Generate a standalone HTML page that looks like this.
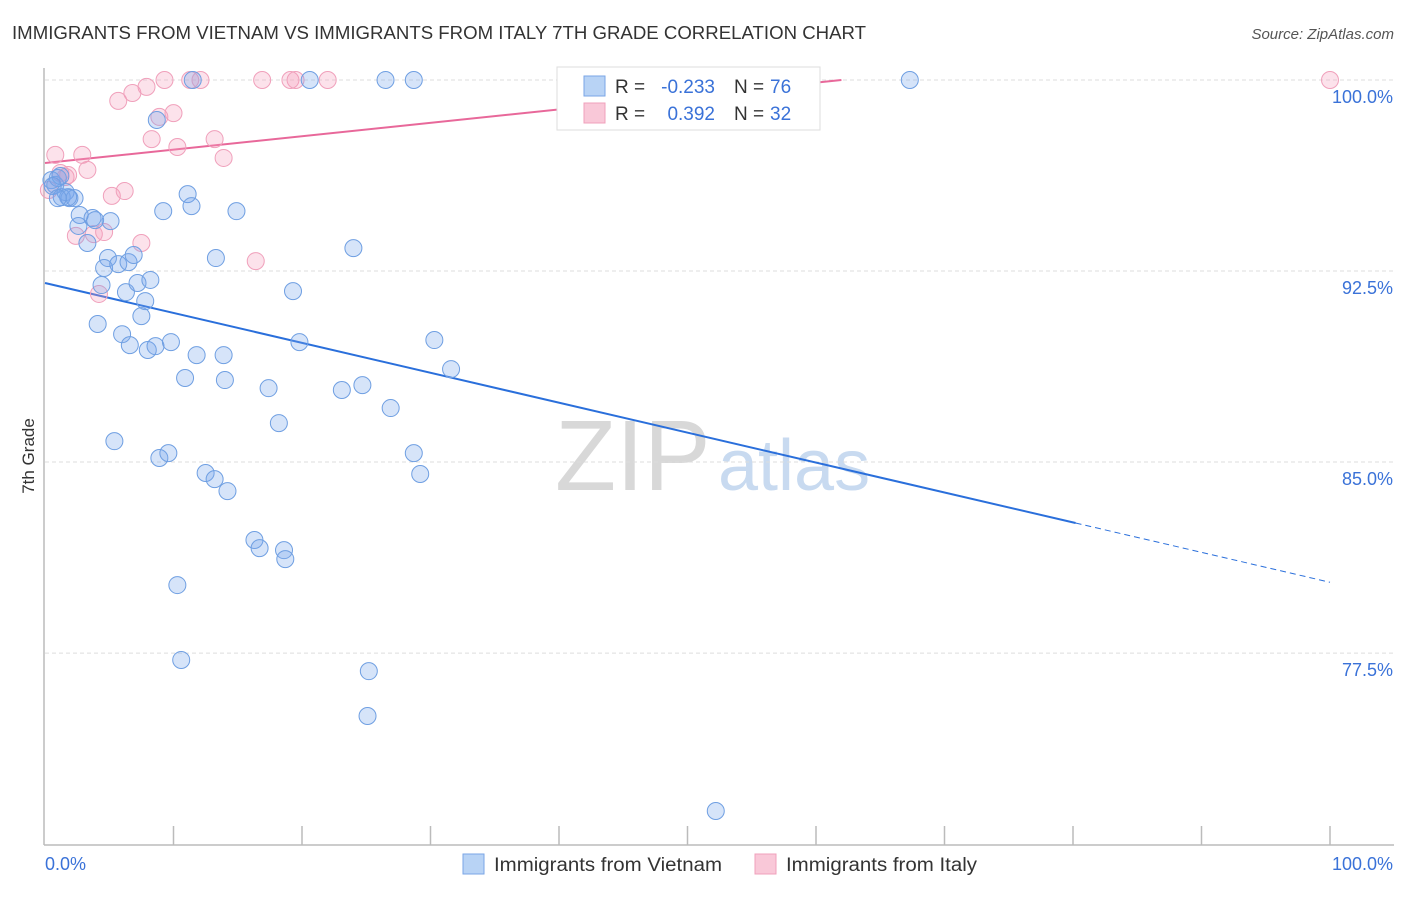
<!DOCTYPE html>
<html><head><meta charset="utf-8"><style>
body{margin:0;background:#fff;font-family:"Liberation Sans",sans-serif;}
svg text{font-family:"Liberation Sans",sans-serif;}
</style></head><body>
<svg id="chart" width="1406" height="892" xmlns="http://www.w3.org/2000/svg">
<text x="12" y="39" font-size="18" fill="#333" textLength="854" lengthAdjust="spacingAndGlyphs">IMMIGRANTS FROM VIETNAM VS IMMIGRANTS FROM ITALY 7TH GRADE CORRELATION CHART</text>
<text x="1394" y="39" font-size="15" fill="#555" text-anchor="end" font-style="italic">Source: ZipAtlas.com</text>
<text x="34" y="456" font-size="17" fill="#333" text-anchor="middle" transform="rotate(-90 34 456)">7th Grade</text>
<text x="555" y="490" font-size="100" fill="#d8d8d8" font-family="Liberation Serif">ZIP</text>
<text x="718" y="490" font-size="72" fill="#c8daf0">atlas</text>
<g id="grid"></g><g id="axes"></g><g id="trend"></g><g id="pts"></g>
<g>
<rect x="557" y="67" width="263" height="63" fill="#fff" stroke="#ddd"/>
<rect x="584" y="76" width="21" height="20" fill="#b8d3f5" stroke="#7aa6e6"/>
<rect x="584" y="103" width="21" height="20" fill="#f9c8d8" stroke="#f0a0bb"/>
<text x="615" y="93" font-size="19" fill="#333">R =</text>
<text x="715" y="93" font-size="19" fill="#3a72d8" text-anchor="end">-0.233</text>
<text x="734" y="93" font-size="19" fill="#333">N =</text>
<text x="770" y="93" font-size="19" fill="#3a72d8">76</text>
<text x="615" y="120" font-size="19" fill="#333">R =</text>
<text x="715" y="120" font-size="19" fill="#3a72d8" text-anchor="end">0.392</text>
<text x="734" y="120" font-size="19" fill="#333">N =</text>
<text x="770" y="120" font-size="19" fill="#3a72d8">32</text>
</g>
<g>
<rect x="463" y="854" width="21" height="20" fill="#b8d3f5" stroke="#7aa6e6"/>
<text x="494" y="871" font-size="19" fill="#333" textLength="228" lengthAdjust="spacingAndGlyphs">Immigrants from Vietnam</text>
<rect x="755" y="854" width="21" height="20" fill="#f9c8d8" stroke="#f0a0bb"/>
<text x="786" y="871" font-size="19" fill="#333" textLength="191" lengthAdjust="spacingAndGlyphs">Immigrants from Italy</text>
</g>
</svg>
<script>
const yTicks=[100,92.5,85,77.5];
const yTickLabels=["100.0%","92.5%","85.0%","77.5%"];
const xTickLabels=["0.0%","100.0%"];
const blueX=[0.5,0.8,1.0,1.2,0.6,1.3,1.6,1.9,2.3,1.8,1.0,2.7,2.6,3.3,3.7,3.9,5.1,4.9,4.6,4.4,5.7,6.5,6.9,6.3,7.2,7.8,8.2,7.5,4.1,6.0,6.6,8.0,8.6,9.8,8.7,9.2,11.1,11.4,14.9,13.3,11.5,20.6,26.5,28.7,67.3,19.3,19.8,24.0,30.3,31.6,10.9,11.8,13.9,14.0,17.4,23.1,24.7,26.9,18.2,5.4,8.9,9.6,12.5,13.2,14.2,28.7,29.2,16.3,16.7,18.6,18.7,10.3,10.6,25.2,25.1,52.2];
const blueY=[96.07,95.88,96.15,96.23,95.84,95.40,95.60,95.36,95.36,95.40,95.36,94.70,94.27,93.60,94.58,94.50,94.46,93.01,92.62,91.95,92.77,92.85,93.13,91.67,92.03,91.32,92.15,90.73,90.42,90.02,89.59,89.40,89.55,89.71,98.43,94.85,95.52,95.05,94.85,93.01,100,100,100,100,100,91.71,89.71,93.40,89.79,88.65,88.30,89.20,89.20,88.22,87.90,87.83,88.02,87.12,86.53,85.82,85.16,85.35,84.57,84.33,83.86,85.35,84.53,81.94,81.62,81.54,81.19,80.17,77.23,76.79,75.03,71.30];
const pinkX=[0.8,1.2,1.6,1.8,2.9,3.3,2.4,3.8,4.6,5.2,6.2,7.5,4.2,5.7,6.8,7.9,8.3,8.9,10.0,10.3,13.2,13.9,9.3,11.3,12.1,16.9,19.1,19.5,22.0,16.4,100,0.3];
const pinkY=[97.06,96.35,96.19,96.27,97.06,96.47,93.88,93.95,94.03,95.45,95.64,93.60,91.60,99.18,99.49,99.73,97.68,98.55,98.70,97.37,97.68,96.94,100,100,100,100,100,100,100,92.89,100,95.68];
const blueTrend=[92.03,-0.1175];
const pinkTrend=[96.74,0.0526];
const NS="http://www.w3.org/2000/svg";
const X=v=>45+v*12.85, Y=v=>80+(100-v)*25.47;
function mk(t,a,p){const e=document.createElementNS(NS,t);for(const k in a)e.setAttribute(k,a[k]);document.getElementById(p).appendChild(e);return e;}
yTicks.forEach((t,i)=>{
 const l=mk('line',{x1:45,x2:1394,y1:Y(t),y2:Y(t),stroke:'#ddd','stroke-dasharray':'4,3'},'grid');
 
 
 const tx=mk('text',{x:1393,y:Y(t)+23,'font-size':18,fill:'#3a72d8','text-anchor':'end'},'grid');tx.textContent=yTickLabels[i];
 
 
});
let ax=mk('line',{x1:44,x2:44,y1:68,y2:845,stroke:'#bbb','stroke-width':1.5},'axes');


ax=mk('line',{x1:44,x2:1394,y1:845,y2:845,stroke:'#bbb','stroke-width':1.5},'axes');


for(let i=1;i<=10;i++){const t=mk('line',{x1:X(i*10),x2:X(i*10),y1:826,y2:845,stroke:'#bbb','stroke-width':1.5},'axes');
 
 }
let xl=mk('text',{x:45,y:870,'font-size':18,fill:'#3a72d8'},'axes');xl.textContent=xTickLabels[0];


xl=mk('text',{x:1393,y:870,'font-size':18,fill:'#3a72d8','text-anchor':'end'},'axes');xl.textContent=xTickLabels[1];


const bEnd=80.2;
let tl=mk('line',{x1:X(0),y1:Y(blueTrend[0]),x2:X(bEnd),y2:Y(blueTrend[0]+blueTrend[1]*bEnd),stroke:'#2a6fdb','stroke-width':2},'trend');


tl=mk('line',{x1:X(bEnd),y1:Y(blueTrend[0]+blueTrend[1]*bEnd),x2:X(100),y2:Y(blueTrend[0]+blueTrend[1]*100),stroke:'#2a6fdb','stroke-width':1,'stroke-dasharray':'6,4'},'trend');


const pEnd=(100-pinkTrend[0])/pinkTrend[1];
tl=mk('line',{x1:X(0),y1:Y(pinkTrend[0]),x2:X(pEnd),y2:Y(100),stroke:'#e8689a','stroke-width':2},'trend');


pinkX.forEach((x,i)=>{const c=mk('circle',{cx:X(x),cy:Y(pinkY[i]),r:8.5,fill:'rgba(245,160,190,0.3)',stroke:'#f0a0bb','stroke-width':1},'pts');
 
 });
blueX.forEach((x,i)=>{const c=mk('circle',{cx:X(x),cy:Y(blueY[i]),r:8.5,fill:'rgba(120,165,235,0.3)',stroke:'#6f9fe2','stroke-width':1},'pts');
 
 });
</script>
</body></html>
